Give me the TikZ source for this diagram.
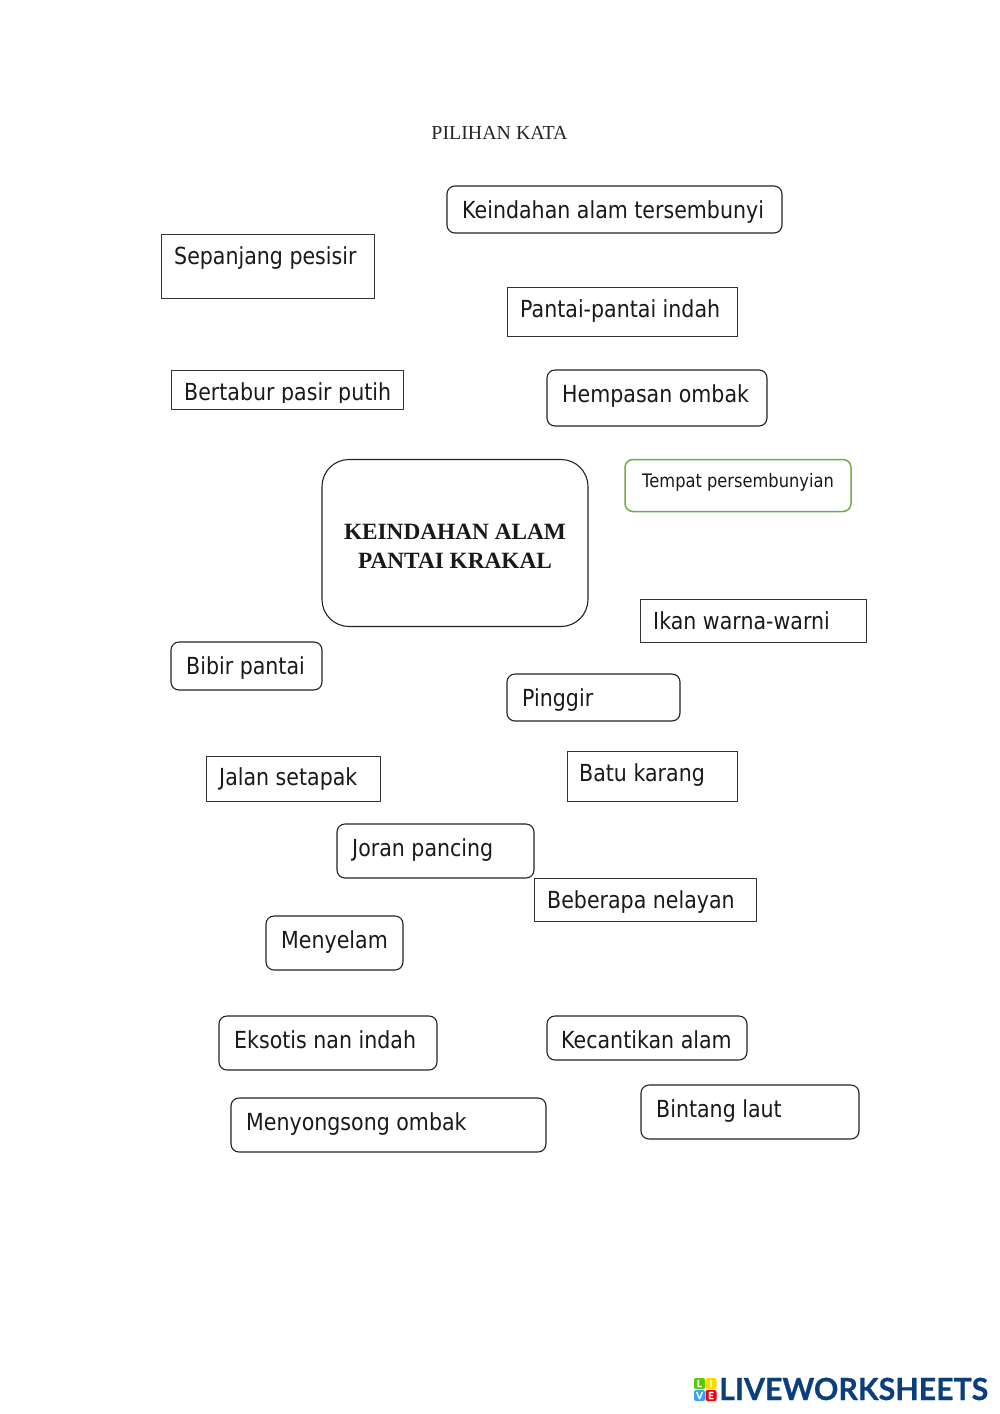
\documentclass[tikz,border=0pt]{standalone}
\usepackage{fontspec}
\setmainfont{Liberation Serif}
\newfontfamily\boxfont[FakeStretch=0.875]{DejaVu Sans}
\newfontfamily\logofont[FakeStretch=0.994,FakeBold=0.6]{Lato}
\definecolor{boxline}{HTML}{222222}
\definecolor{sline}{HTML}{333333}
\definecolor{greenline}{HTML}{70AD47}
\definecolor{logoblue}{HTML}{0B3F7C}
\tikzset{
  rbox/.style={draw=boxline,line width=1.1pt,rounded corners=8pt,inner sep=0pt},
  sbox/.style={draw=sline,line width=0.75pt,inner sep=0pt},
  gbox/.style={draw=greenline,line width=1.5pt,rounded corners=8pt,inner sep=0pt},
  lbl/.style={anchor=base west,inner sep=0pt,font=\boxfont\fontsize{23.5}{28}\selectfont,text=black!90},
  tile/.style={minimum size=11pt,inner sep=0pt,rounded corners=2pt,text=white,font=\logofont\bfseries\fontsize{10}{10}\selectfont}
}
\newcommand{\tbox}[9]{%
  \node[#2,minimum width={(#5-#3)*1pt},minimum height={(#6-#4)*1pt}] (#1) at ({(#3+#5)/2},{(#4+#6)/2}) {};
  \node[lbl] (#1t) at (#7,{#8-1}) {#9};
}
\begin{document}
\begin{tikzpicture}[x=1pt,y=-1pt]
\useasboundingbox (0,0) rectangle (1000,1414);
\node[font=\fontsize{19.9}{24}\selectfont,text=black!85] (title) at (499.5,133) {PILIHAN KATA};
\tbox{a}{rbox}{447}{186}{782}{233}{462}{219}{Keindahan alam tersembunyi}
\tbox{b}{sbox}{161}{234}{374}{298}{174}{265}{Sepanjang pesisir}
\tbox{c}{sbox}{507}{287}{737}{336}{520}{318}{Pantai-pantai indah}
\begin{scope}
\clip (171,370) rectangle (403,402);
\node[lbl] (dt) at (184,400) {Bertabur pasir putih};
\end{scope}
\node[sbox,minimum width=232pt,minimum height=39pt] (d) at (287,389.5) {};
\tbox{e}{rbox}{547}{370}{767}{426}{562}{403}{Hempasan ombak}
\node[gbox,minimum width=226pt,minimum height=52pt] (f) at (738,485.5) {};
\node[lbl,font=\boxfont\fontsize{18.6}{23}\selectfont] (ft) at (642,487) {Tempat persembunyian};
\node[draw=boxline,line width=1.1pt,rounded corners=27pt,minimum width=266pt,minimum height=167pt,inner sep=0pt] (main) at (455,543) {};
\node[align=center,inner sep=0pt,font=\bfseries\fontsize{23.3}{29}\selectfont,text=black!90] (maint) at (455,546) {KEINDAHAN ALAM\\PANTAI KRAKAL};
\tbox{g}{sbox}{640}{599}{866}{642}{653}{630}{Ikan warna-warni}
\tbox{h}{rbox}{171}{642}{322}{690}{186}{675}{Bibir pantai}
\tbox{i}{rbox}{507}{674}{680}{721}{522}{707}{Pinggir}
\tbox{j}{sbox}{206}{756}{380}{801}{219}{786}{Jalan setapak}
\tbox{k}{sbox}{567}{751}{737}{801}{579}{782}{Batu karang}
\tbox{l}{rbox}{337}{824}{534}{878}{352}{857}{Joran pancing}
\tbox{m}{sbox}{534}{878}{756}{921}{547}{909}{Beberapa nelayan}
\tbox{n}{rbox}{266}{916}{403}{970}{281}{949}{Menyelam}
\tbox{o}{rbox}{219}{1016}{437}{1070}{234}{1049}{Eksotis nan indah}
\tbox{p}{rbox}{547}{1016}{747}{1060}{561}{1049}{Kecantikan alam}
\tbox{q}{rbox}{641}{1085}{859}{1139}{656}{1118}{Bintang laut}
\tbox{r}{rbox}{231}{1098}{546}{1152}{246}{1131}{Menyongsong ombak}
% logo
\node[tile,fill=green!60!yellow!80!black] (l1) at (699.5,1383.5) {L};
\node[tile,fill=orange!30!yellow] (l2) at (711,1383.5) {I};
\node[tile,fill=blue!45!cyan!80] (l3) at (699.5,1395.5) {V};
\node[tile,fill=red!85!purple] (l4) at (711,1395.5) {E};
\node[anchor=base west,inner sep=0pt,text=logoblue,font=\logofont\bfseries\fontsize{30.5}{34}\selectfont] (logo) at (719,1400) {LIVEWORKSHEETS};
\end{tikzpicture}
\end{document}
